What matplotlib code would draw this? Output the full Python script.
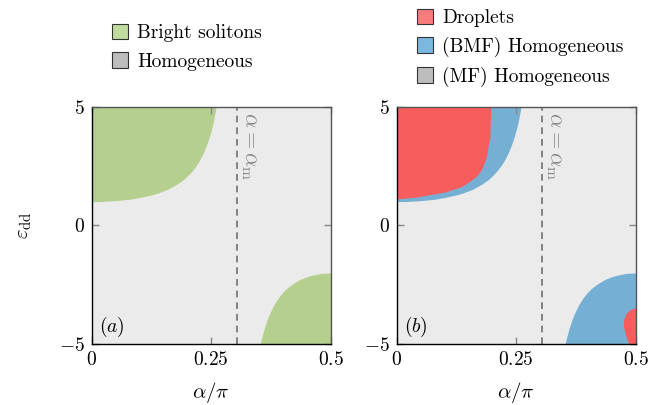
import numpy as np
import matplotlib
matplotlib.use('Agg')
import matplotlib.pyplot as plt
from matplotlib.patches import Patch

plt.rcParams['font.family'] = 'serif'
plt.rcParams['font.serif'] = ['cmr10']
plt.rcParams['mathtext.fontset'] = 'cm'
plt.rcParams['axes.unicode_minus'] = False

# boundary of the upper-left region (alpha/pi, eps_dd)
a_top = [0, 0.02, 0.05, 0.08, 0.1, 0.12, 0.13, 0.14, 0.15, 0.16, 0.17, 0.18, 0.19, 0.195,
         0.2, 0.205, 0.21, 0.215, 0.22, 0.225, 0.23, 0.235, 0.24, 0.245, 0.25, 0.255, 0.2606]
eps_top = [1.0, 1.006, 1.04, 1.10, 1.17, 1.26, 1.31, 1.37, 1.45, 1.53, 1.64, 1.76, 1.90, 1.98,
           2.08, 2.18, 2.29, 2.42, 2.56, 2.72, 2.91, 3.12, 3.37, 3.66, 4.0, 4.42, 5.0]
# boundary of the lower-right region
a_bot = [0.352, 0.355, 0.36, 0.365, 0.37, 0.38, 0.39, 0.40, 0.41, 0.42, 0.435, 0.45, 0.46, 0.48, 0.5]
eps_bot = [-5.0, -4.76, -4.39, -4.07, -3.80, -3.37, -3.05, -2.80, -2.61, -2.46, -2.28, -2.16,
           -2.10, -2.02, -2.0]
# droplet regions (right panel)
eps_drop1 = [1.12, 1.14, 1.20, 1.28, 1.40, 1.49, 1.63, 1.84, 2.05, 2.26, 2.55, 2.97, 3.39, 3.67, 4.3, 5.0]
a_drop1 = [0, 0.016, 0.045, 0.066, 0.101, 0.114, 0.136, 0.152, 0.166, 0.175, 0.182, 0.189, 0.192, 0.195, 0.196, 0.197]
eps_drop2 = [-5.0, -4.55, -4.25, -3.95, -3.70, -3.55, -3.46]
a_drop2 = [0.485, 0.478, 0.474, 0.475, 0.480, 0.488, 0.5]
alpha_m = 0.304

c_bg = '#ebebeb'
c_green = '#b5cf8f'
c_red = '#f75d5d'
c_blue = '#76afd4'
c_grey = '#bdbdbd'

fig = plt.figure(figsize=(6.5, 4.05), dpi=100)
ax1 = fig.add_axes([0.141, 0.150, 0.368, 0.587])
ax2 = fig.add_axes([0.610, 0.150, 0.368, 0.587])

for ax, lab in [(ax1, '$(a)$'), (ax2, '$(b)$')]:
    ax.set_facecolor(c_bg)
    ax.set_xlim(0, 0.5)
    ax.set_ylim(-5, 5)
    ax.set_xticks([0, 0.25, 0.5])
    ax.set_xticklabels(['$0$', '$0.25$', '$0.5$'], fontsize=14)
    ax.set_yticks([-5, 0, 5])
    ax.set_yticklabels(['$-5$', '$0$', '$5$'], fontsize=14)
    ax.tick_params(direction='in', length=5, width=1, color='#888888',
                   top=True, right=True, pad=5)
    ax.axvline(alpha_m, color='#707070', lw=1.2, ls=(0, (4, 3)))
    ax.text(alpha_m + 0.005, 4.75, r'$\alpha = \alpha_{\rm m}$', rotation=270,
            color='#8a8a8a', fontsize=16, ha='left', va='top')
    ax.text(0.015, -4.8, lab, fontsize=14, ha='left', va='bottom')
    ax.set_xlabel(r'$\alpha/\pi$', fontsize=15, labelpad=8)
    for s in ['top', 'right']:
        ax.spines[s].set_color('#555555')
    for s in ax.spines.values():
        s.set_linewidth(1.0)

ax1.set_ylabel(r'$\varepsilon_{\rm dd}$', fontsize=15, labelpad=18)

ax1.fill_between(a_top, eps_top, 5, color=c_green, lw=0)
ax1.fill_between(a_bot, -5, eps_bot, color=c_green, lw=0)

ax2.fill_between(a_top, eps_top, 5, color=c_blue, lw=0)
ax2.fill_between(a_bot, -5, eps_bot, color=c_blue, lw=0)
ax2.fill_betweenx(eps_drop1, 0, a_drop1, color=c_red, lw=0)
ax2.fill_betweenx(eps_drop2, a_drop2, 0.5, color=c_red, lw=0)

h1 = [Patch(facecolor='#c0dc9c', edgecolor='#333333', lw=0.8),
      Patch(facecolor=c_grey, edgecolor='#333333', lw=0.8)]
ax1.legend(h1, ['Bright solitons', 'Homogeneous'], loc='upper left',
           bbox_to_anchor=(0.052, 1.38), frameon=False, fontsize=14,
           handlelength=0.85, handleheight=0.85, handletextpad=0.45,
           labelspacing=0.5, borderaxespad=0)

h2 = [Patch(facecolor='#f97b7b', edgecolor='#333333', lw=0.8),
      Patch(facecolor='#7ab8e0', edgecolor='#333333', lw=0.8),
      Patch(facecolor=c_grey, edgecolor='#333333', lw=0.8)]
ax2.legend(h2, ['Droplets', '(BMF) Homogeneous', '(MF) Homogeneous'], loc='upper left',
           bbox_to_anchor=(0.052, 1.445), frameon=False, fontsize=14,
           handlelength=0.85, handleheight=0.85, handletextpad=0.45,
           labelspacing=0.5, borderaxespad=0)

fig.savefig('out.png', dpi=100)
